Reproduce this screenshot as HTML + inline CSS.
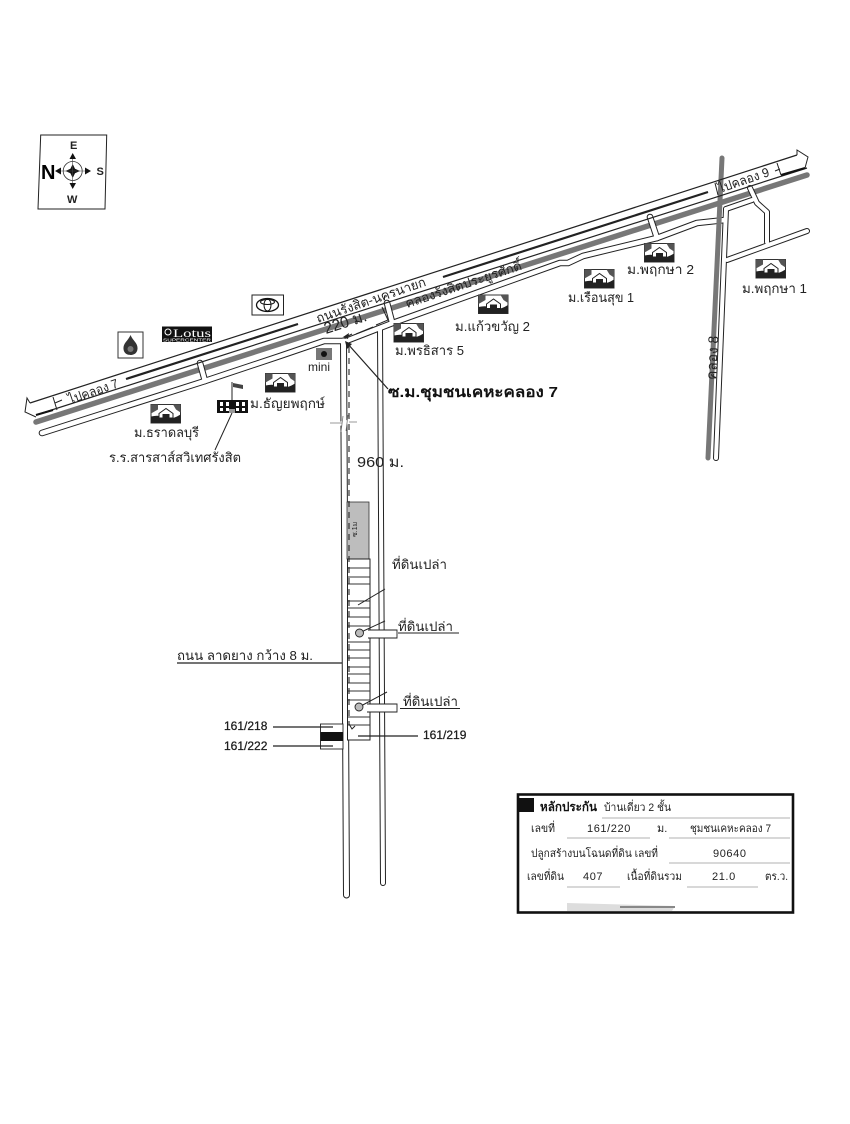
<!DOCTYPE html>
<html><head><meta charset="utf-8"><style>
html,body{margin:0;padding:0;background:#fff}
svg{display:block}
text{font-family:"Liberation Sans","DejaVu Sans",sans-serif;fill:#222}
.t{font-size:13px}
.s{font-size:11px}
.n{font-size:12px;stroke:#111;stroke-width:.25px}
</style></head><body>
<svg width="850" height="1124" viewBox="0 0 850 1124" xmlns="http://www.w3.org/2000/svg">
<defs>
<g id="h">
<rect x="0" y="0" width="29.5" height="18.5" fill="#fff" stroke="#333" stroke-width="1"/>
<path d="M0 12 Q8 10 14 13 T29.5 10 V18.5 H0Z" fill="#222"/>
<path d="M0 0H7V5L0 9ZM22 0H29.5V8L25 5Z" fill="#555"/>
<path d="M8 9L15 4L22 9V13.500H8Z" fill="#fff" stroke="#222" stroke-width="1"/>
<rect x="11.500" y="9.500" width="7" height="3.500" fill="#222"/>
</g>
</defs>
<rect width="850" height="1124" fill="#fff"/>

<!-- compass -->
<path d="M40.7 135L106.7 135L105 209L38 209Z" fill="#fff" stroke="#222" stroke-width="1"/>
<circle cx="72.7" cy="171" r="9.5" fill="none" stroke="#333" stroke-width=".8"/>
<path d="M72.7 164L75 168.7L80 171L75 173.3L72.7 178L70.4 173.3L65.500 171L70.400 168.700Z" fill="#111"/>
<path d="M72.700 154V188M56 171H90" stroke="#444" stroke-width=".6"/>
<path d="M72.700 153L76 159H69.500ZM72.700 189L76 183H69.500ZM55 171L61 167.500V174.500ZM91 171L85 167.500V174.500Z" fill="#111"/>
<text x="70" y="149" style="font-size:11px;font-weight:bold">E</text>
<text x="67" y="203" style="font-size:11px;font-weight:bold">W</text>
<text x="96.500" y="175" style="font-size:11px;font-weight:bold">S</text>
<text x="41" y="179" style="font-size:20px;font-weight:bold;fill:#000">N</text>

<!-- canal -->
<path d="M36 422L807 175" stroke="#777" stroke-width="5.500" fill="none" stroke-linecap="round"/>

<!-- frontage and connected roads -->
<g fill="none" stroke="#222" stroke-width="6.600" stroke-linejoin="round" stroke-linecap="round">
<path d="M42 433L205 381L280 356L324 341H346L390 324L560 263L568 263L583 256L657 238L697 223L725 220"/>
<path d="M200 363L205 381M387 303L392 322M650 217L657 238"/>
<path d="M343.500 341L346.500 895" stroke-width="7"/>
<path d="M380 328L383 883" stroke-width="6"/>
<path d="M726 209L716 458" stroke-width="6"/>
<path d="M726 209L752 200" stroke-width="6"/>
<path d="M750 188L757 203L767 212V242" stroke-width="6"/>
<path d="M727 260L807 231" stroke-width="6"/>
</g>
<g fill="none" stroke="#fff" stroke-width="4.600" stroke-linejoin="round" stroke-linecap="round">
<path d="M42 433L205 381L280 356L324 341H346L390 324L560 263L568 263L583 256L657 238L697 223L725 220"/>
<path d="M200 363L205 381M387 303L392 322M650 217L657 238"/>
<path d="M343.500 341L346.500 895" stroke-width="5"/>
<path d="M380 328L383 883" stroke-width="4"/>
<path d="M726 209L716 458" stroke-width="4"/>
<path d="M726 209L752 200" stroke-width="4"/>
<path d="M750 188L757 203L767 212V242" stroke-width="4"/>
<path d="M727 260L807 231" stroke-width="4"/>
</g>

<!-- klong 8 -->
<path d="M722 158L708 458" stroke="#777" stroke-width="5" fill="none" stroke-linecap="round"/>

<!-- main road lines -->
<path d="M30 403L797 155" stroke="#222" stroke-width="1.200" fill="none"/>
<path d="M36 415L807 168" stroke="#222" stroke-width="1.200" fill="none"/>
<path d="M36 415L53 410M781 175L805 168" stroke="#111" stroke-width="2" fill="none"/>
<path d="M30 403L27 398L25 412L36 417" stroke="#222" stroke-width="1" fill="none"/>
<path d="M797 155L797 150L808 157L805 168" stroke="#222" stroke-width="1" fill="none"/>
<path d="M126 379L298 324" stroke="#222" stroke-width="2.200"/>
<path d="M443 277L708 192" stroke="#222" stroke-width="2.200"/>
<path d="M53 397L57 410M715 183L718 195M777 163L781 175M55 403L62 400M775 171L780 169" stroke="#222" stroke-width="1"/>

<!-- road break -->
<path d="M330 426L357 420" stroke="#fff" stroke-width="4"/>
<path d="M330 423H342M349 422H357M343 416L341 432M348 415L346 431" stroke="#777" stroke-width=".8"/>

<!-- land strip -->
<rect x="347" y="502" width="22" height="57" fill="#bdbdbd" stroke="#333" stroke-width=".8"/>
<rect x="347.500" y="559" width="22.500" height="181" fill="#fff" stroke="#222" stroke-width="1"/>
<path d="M348 568H370M348 577H370M348 584H370M348 601H370M348 608H370M348 617H370M348 626H370M348 642H370M348 650H370M348 658H370M348 667H370M348 674H370M348 683H370M348 691H370M348 700H370M348 717H370M348 725H370" stroke="#333" stroke-width=".9"/>
<path d="M349 347V725" stroke="#222" stroke-width="1.100" stroke-dasharray="6 5" fill="none"/>
<path d="M349 724L352 729L355 726" stroke="#222" fill="none"/>
<text transform="translate(357,537) rotate(-90)" style="font-size:7px">ซ.1ม</text>

<!-- callouts -->
<path d="M358 605L385 589M359 633L385 621M359 707L387 692" stroke="#222" stroke-width="1"/>
<path d="M368 630H397V638H368M367 704H397V712H367" fill="#fff" stroke="#222" stroke-width=".9"/>
<circle cx="359.500" cy="633" r="4" fill="#bbb" stroke="#222" stroke-width=".9"/>
<circle cx="359" cy="707" r="4" fill="#bbb" stroke="#222" stroke-width=".9"/>
<path d="M398 633H459M400 708.500H460" stroke="#222" stroke-width="1"/>
<text class="t" x="392" y="569" textLength="55" lengthAdjust="spacingAndGlyphs">ที่ดินเปล่า</text>
<text class="t" x="398" y="631" textLength="55" lengthAdjust="spacingAndGlyphs">ที่ดินเปล่า</text>
<text class="t" x="403" y="706" textLength="55" lengthAdjust="spacingAndGlyphs">ที่ดินเปล่า</text>
<path d="M358 736H418" stroke="#222" stroke-width="1.200"/>
<text class="n" x="423" y="739">161/219</text>

<!-- left labels -->
<text class="t" x="177" y="660" textLength="136" lengthAdjust="spacingAndGlyphs">ถนน ลาดยาง กว้าง 8 ม.</text>
<path d="M177 663H342" stroke="#222" stroke-width="1.200"/>
<rect x="320.500" y="724" width="22.500" height="25" fill="#fff" stroke="#222" stroke-width=".9"/>
<rect x="320.500" y="732" width="22.500" height="9" fill="#111"/>
<path d="M273 727H333M273 746H333" stroke="#222" stroke-width="1.200"/>
<text class="n" x="224" y="730">161/218</text>
<text class="n" x="224" y="750">161/222</text>

<!-- road text -->
<text class="t" transform="translate(70,404) rotate(-19)" textLength="52" lengthAdjust="spacingAndGlyphs">ไปคลอง 7</text>
<text class="t" transform="translate(720,193) rotate(-19)" textLength="53" lengthAdjust="spacingAndGlyphs">ไปคลอง 9</text>
<text class="t" transform="translate(318,323) rotate(-19)" textLength="115" lengthAdjust="spacingAndGlyphs">ถนนรังสิต-นครนายก</text>
<text class="t" transform="translate(407,308) rotate(-18.500)" textLength="122" lengthAdjust="spacingAndGlyphs">คลองรังสิตประยูรศักดิ์</text>
<text transform="translate(326,334) rotate(-18)" textLength="44" lengthAdjust="spacingAndGlyphs" style="font-size:16px">220 ม.</text>
<text transform="translate(716,380) rotate(-87)" textLength="44" lengthAdjust="spacingAndGlyphs" style="font-size:14px">คลอง 8</text>

<!-- 220 m marker -->
<path d="M346 337L352 334M356 334L373 327M376 325L388 320L382 307" stroke="#222" stroke-width="1" fill="none"/>
<path d="M343 337L349 333L348 339Z" fill="#222"/>
<path d="M347 343L388 389" stroke="#222" stroke-width="1.200"/>
<path d="M345 341L352 344L347 349Z" fill="#222"/>

<text x="388" y="397" textLength="170" lengthAdjust="spacingAndGlyphs" style="font-size:15px;font-weight:bold;fill:#111">ซ.ม.ชุมชนเคหะคลอง 7</text>
<text x="357" y="467" textLength="47" lengthAdjust="spacingAndGlyphs" style="font-size:15px">960 ม.</text>

<!-- houses -->
<use href="#h" x="151" y="404.500"/>
<use href="#h" x="265.500" y="373.500"/>
<use href="#h" x="394" y="323.500"/>
<use href="#h" x="478.500" y="295"/>
<use href="#h" x="644.500" y="243.500"/>
<use href="#h" x="584.500" y="269.500"/>
<use href="#h" x="756" y="259.500"/>

<text class="t" x="134" y="437" textLength="65" lengthAdjust="spacingAndGlyphs">ม.ธราดลบุรี</text>
<text class="t" x="250" y="408" textLength="75" lengthAdjust="spacingAndGlyphs">ม.ธัญยพฤกษ์</text>
<text class="t" x="395" y="355" textLength="69" lengthAdjust="spacingAndGlyphs">ม.พรธิสาร 5</text>
<text class="t" x="455" y="331" textLength="75" lengthAdjust="spacingAndGlyphs">ม.แก้วขวัญ 2</text>
<text class="t" x="627" y="274" textLength="67" lengthAdjust="spacingAndGlyphs">ม.พฤกษา 2</text>
<text class="t" x="568" y="302" textLength="66" lengthAdjust="spacingAndGlyphs">ม.เรือนสุข 1</text>
<text class="t" x="742" y="293" textLength="65" lengthAdjust="spacingAndGlyphs">ม.พฤกษา 1</text>
<text class="t" x="109" y="462" textLength="132" lengthAdjust="spacingAndGlyphs">ร.ร.สารสาส์สวิเทศรังสิต</text>

<!-- mini -->
<rect x="316" y="348" width="16" height="12" fill="#777"/>
<circle cx="324" cy="354" r="3" fill="#111"/>
<text x="308" y="371" style="font-size:12px">mini</text>

<!-- school -->
<rect x="217" y="400" width="31" height="13" fill="#111"/>
<path d="M220 402h3v4h-3zM226 402h3v4h-3zM236 402h3v4h-3zM242 402h3v4h-3zM220 408h3v3h-3zM226 408h3v3h-3zM236 408h3v3h-3zM242 408h3v3h-3z" fill="#fff"/>
<rect x="229" y="409" width="6" height="4" fill="#999"/>
<path d="M232 382V400M232 413L215 450" stroke="#222" stroke-width="1"/>
<path d="M233 383L243 385V389L233 387Z" fill="#444"/>

<!-- logos -->
<rect x="252" y="295" width="31.500" height="20" fill="#fff" stroke="#222" stroke-width="1"/>
<ellipse cx="267.500" cy="305" rx="11" ry="6.500" fill="none" stroke="#111" stroke-width="1.300"/>
<ellipse cx="267.500" cy="305" rx="3.500" ry="6" fill="none" stroke="#111" stroke-width="1"/>
<ellipse cx="267.500" cy="302" rx="7" ry="2.500" fill="none" stroke="#111" stroke-width="1"/>
<rect x="162" y="326.500" width="50" height="15.500" fill="#111"/>
<circle cx="168" cy="332" r="3" fill="none" stroke="#fff" stroke-width="1"/>
<text x="173" y="337" textLength="38" lengthAdjust="spacingAndGlyphs" style="font-family:'Liberation Serif',serif;font-size:12px;fill:#fff">Lotus</text>
<text x="163" y="341.500" textLength="48" lengthAdjust="spacingAndGlyphs" style="font-size:4.500px;fill:#fff">SUPERCENTER</text>
<rect x="118" y="332" width="25" height="26" fill="#fff" stroke="#333" stroke-width="1"/>
<path d="M130.500 335C133 341 138 343 137.500 349C137 354 133 355 130.500 355C128 355 124 354 123.500 349C123 343 128 341 130.500 335Z" fill="#333"/>
<circle cx="130.500" cy="349" r="3" fill="#777"/>

<!-- info box -->
<rect x="518" y="794.500" width="275" height="118" fill="#fff" stroke="#111" stroke-width="2.600"/>
<rect x="519" y="798" width="15" height="14" fill="#111"/>
<text x="540" y="811" textLength="57" lengthAdjust="spacingAndGlyphs" style="font-size:12.500px;font-weight:bold;fill:#111">หลักประกัน</text>
<text class="s" x="604" y="811" textLength="67" lengthAdjust="spacingAndGlyphs">บ้านเดี่ยว 2 ชั้น</text>
<path d="M602 818H790M567 838H650M669 838H790M669 863H790M567 887H620M687 887H758" stroke="#999" stroke-width=".8"/>
<text class="s" x="531" y="832" textLength="24" lengthAdjust="spacingAndGlyphs">เลขที่</text>
<text class="s" x="587" y="832" style="letter-spacing:.6px">161/220</text>
<text class="s" x="657" y="832">ม.</text>
<text class="s" x="690" y="832" textLength="81" lengthAdjust="spacingAndGlyphs">ชุมชนเคหะคลอง 7</text>
<text class="s" x="531" y="857" textLength="127" lengthAdjust="spacingAndGlyphs">ปลูกสร้างบนโฉนดที่ดิน เลขที่</text>
<text class="s" x="713" y="857" style="letter-spacing:.6px">90640</text>
<text class="s" x="527" y="880" textLength="37" lengthAdjust="spacingAndGlyphs">เลขที่ดิน</text>
<text class="s" x="583" y="880" style="letter-spacing:.6px">407</text>
<text class="s" x="627" y="880" textLength="55" lengthAdjust="spacingAndGlyphs">เนื้อที่ดินรวม</text>
<text class="s" x="712" y="880" style="letter-spacing:.6px">21.0</text>
<text class="s" x="765" y="880" textLength="23" lengthAdjust="spacingAndGlyphs">ตร.ว.</text>
<path d="M567 903L675 906L672 911H567Z" fill="#ddd"/>
<path d="M620 907L675 907" stroke="#888" stroke-width="2"/>
</svg>
</body></html>
